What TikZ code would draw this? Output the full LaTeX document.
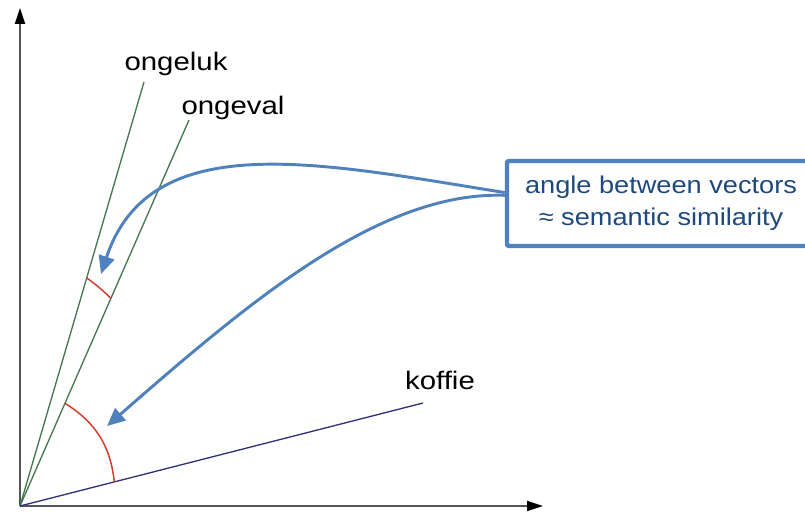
\documentclass[tikz,border=0pt]{standalone}
\usepackage{fontspec}
\setmainfont{Liberation Sans}
\newfontfamily\labelfont[FakeStretch=1.16]{Liberation Sans}
\newfontfamily\notefont[FakeStretch=1.12]{Liberation Sans}
\usetikzlibrary{arrows.meta}
\definecolor{axisgray}{RGB}{85,85,85}
\definecolor{vecgreen}{RGB}{70,120,80}
\definecolor{vecnavy}{RGB}{50,50,120}
\definecolor{arcred}{RGB}{210,60,45}
\definecolor{noteblue}{RGB}{79,129,189}
\definecolor{notetext}{RGB}{31,73,125}

\begin{document}
\begin{tikzpicture}[x=0.75pt,y=0.75pt,
  axis/.style={axisgray,line width=1.6pt,-{Triangle[length=12pt,width=7.5pt,black]}},
  wordvec/.style={line width=1pt},
  anglearc/.style={arcred,line width=1.1pt},
  wordlabel/.style={anchor=base,font=\labelfont\fontsize{19}{23}\selectfont},
  notebox/.style={draw=noteblue,line width=3.3pt,rounded corners=1.5pt,text=notetext,
    align=center,minimum width=231pt,minimum height=63.75pt,
    font=\notefont\fontsize{18.2}{24}\selectfont},
  pointer/.style={noteblue,line width=2.2pt,-{Triangle[length=13.5pt,width=12pt]}}]
\useasboundingbox (0,0) rectangle (805,511);
% axes
\coordinate (O) at (20,5);
\coordinate (ytip) at (20,503);
\coordinate (xtip) at (543,5);
\draw[axis] (O) -- (ytip);
\draw[axis] (O) -- (xtip);
% word vectors
\coordinate (luk) at (144,429);
\coordinate (val) at (189,391);
\coordinate (fie) at (423,108);
\draw[wordvec,vecgreen] (O) -- (luk);
\draw[wordvec,vecgreen] (O) -- (val);
\draw[wordvec,vecnavy] (O) -- (fie);
\node[wordlabel] (ongeluk) at (176,440) {ongeluk};
\node[wordlabel] (ongeval) at (233,396) {ongeval};
\node[wordlabel] (koffie) at (440,122) {koffie};
% angles
\path (O) -- (luk) coordinate[pos=0.538] (a1);
\path (O) -- (val) coordinate[pos=0.538] (a2);
\path (O) -- (val) coordinate[pos=0.266] (b1);
\path (O) -- (fie) coordinate[pos=0.234] (b2);
\draw[anglearc] (a1) to[bend left=4] (a2);
\draw[anglearc] (b1) to[bend left=26] (b2);
% note with pointers
\node[notebox] (note) at (661,307.5) {angle between vectors\\ ≈ semantic similarity};
\coordinate (tipA) at (101,237);
\coordinate (tipB) at (107,85);
\draw[pointer] (note.176) .. controls (320,348) and (150,385) .. (tipA);
\draw[pointer] (note.177.5) .. controls (380,320) and (250,210) .. (tipB);
\end{tikzpicture}
\end{document}
